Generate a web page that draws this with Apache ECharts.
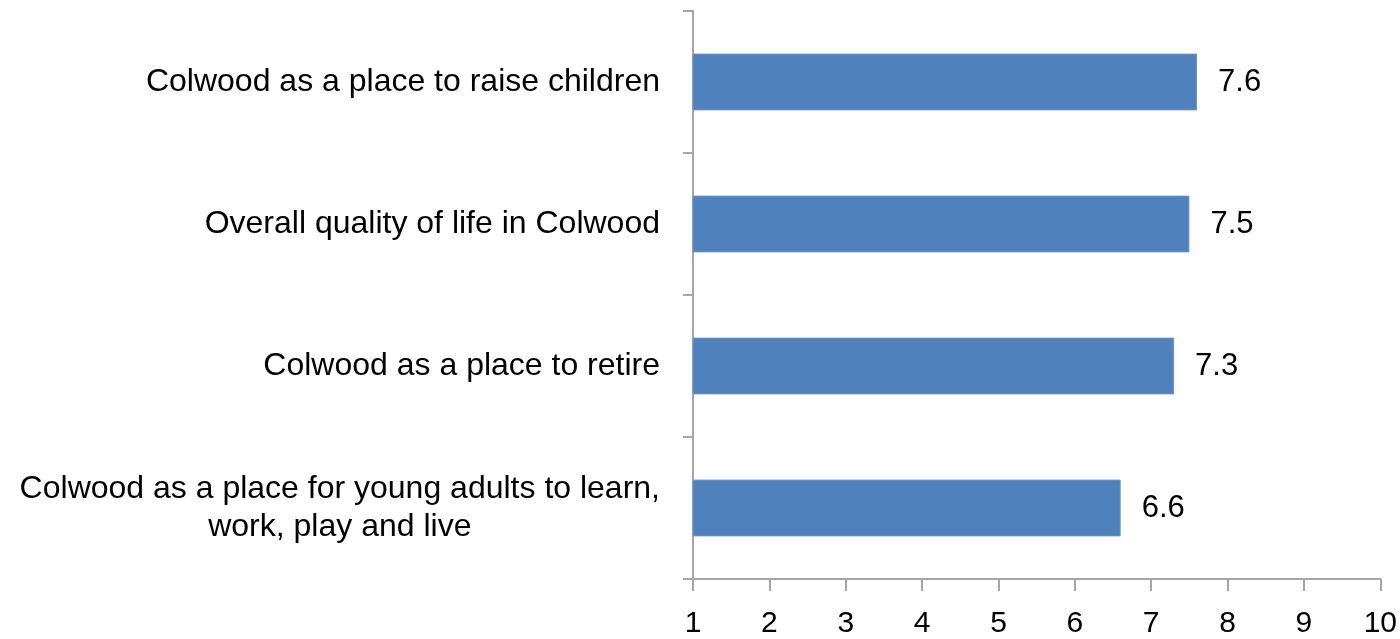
<!DOCTYPE html>
<html><head><meta charset="utf-8">
<script src="https://cdn.jsdelivr.net/npm/echarts@6/dist/echarts.min.js"></script>
<style>html,body{margin:0;padding:0;background:#fff}#c{width:1400px;height:639px}</style>
</head><body><div id="c"></div>
<script>
const categories = [
  "Colwood as a place to raise children",
  "Overall quality of life in Colwood",
  "Colwood as a place to retire",
  "Colwood as a place for young adults to learn,\nwork, play and live"
];
const values = [7.6, 7.5, 7.3, 6.6];
const FONT = "Liberation Sans";
const FS = 32;
const chart = echarts.init(document.getElementById('c'), null, {renderer: 'canvas'});
chart.setOption({
  animation: false,
  grid: {left: 693, right: 18, top: 11, bottom: 60, containLabel: false},
  xAxis: {
    type: 'value', min: 1, max: 10, interval: 1,
    splitLine: {show: false},
    axisLine: {show: true, lineStyle: {color: '#a6a6a6', width: 2}},
    axisTick: {show: true, length: 12, lineStyle: {color: '#a6a6a6', width: 2}},
    axisLabel: {color: '#000', fontFamily: FONT, fontSize: 30, margin: 30}
  },
  yAxis: {
    type: 'category', data: categories, inverse: true,
    axisLine: {show: true, lineStyle: {color: '#a6a6a6', width: 2}},
    axisTick: {show: true, length: 10, lineStyle: {color: '#a6a6a6', width: 2}},
    axisLabel: {
      color: '#000', fontFamily: FONT, fontSize: FS, margin: 33, lineHeight: 38,
      formatter: v => v.split('\n').map(s => '{c|' + s + '}').join('\n'),
      rich: {c: {align: 'center', color: '#000', fontFamily: FONT, fontSize: FS, lineHeight: 38}}
    }
  },
  series: [{
    type: 'bar', data: values, barCategoryGap: '60%',
    itemStyle: {color: '#4f81bd', borderColor: '#6d95c8', borderWidth: 1},
    label: {show: true, position: 'right', distance: 21, color: '#000', fontFamily: FONT, fontSize: 31,
      formatter: p => p.value.toFixed(1)}
  }]
});
</script></body></html>
